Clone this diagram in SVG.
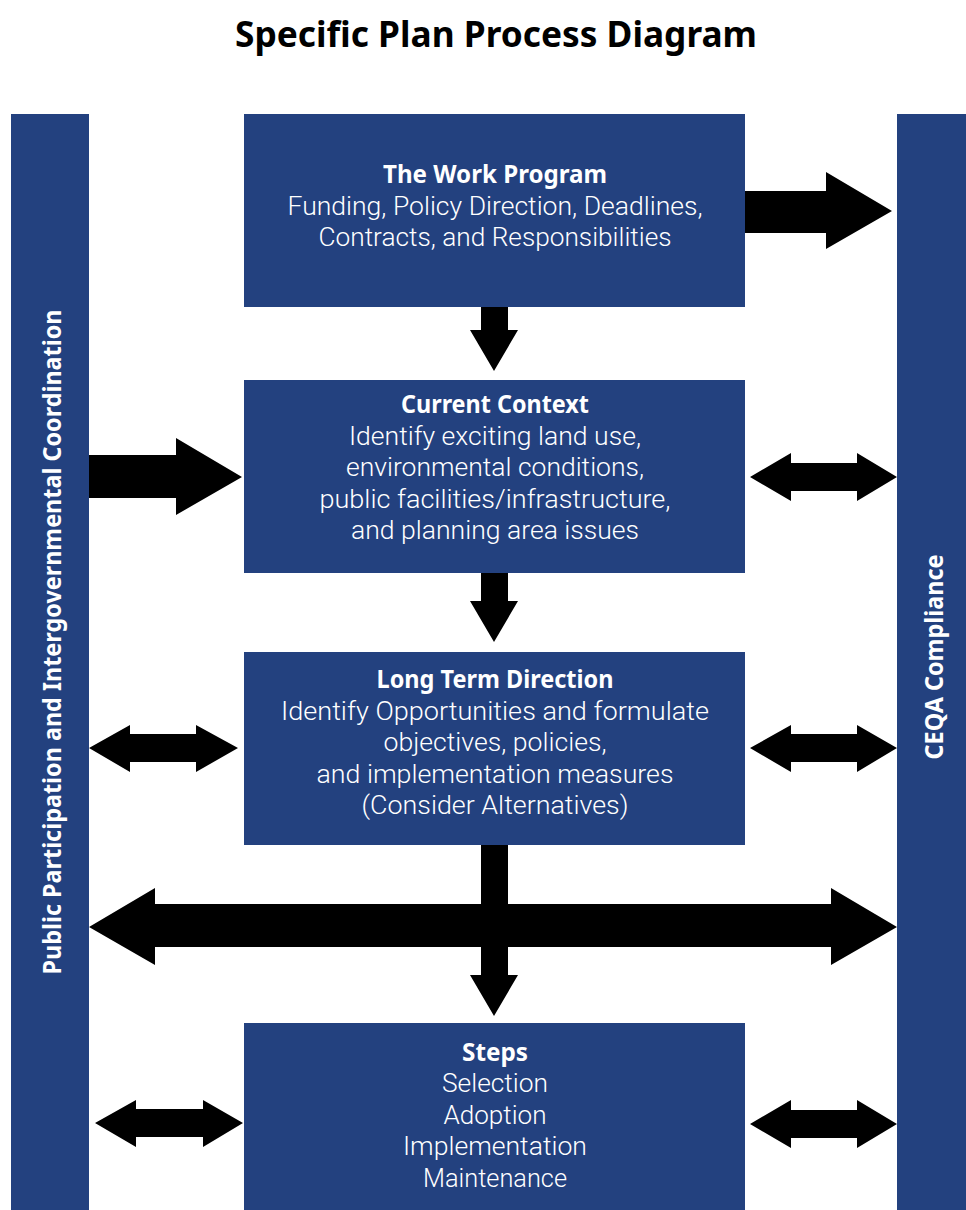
<svg xmlns="http://www.w3.org/2000/svg" width="966" height="1210" viewBox="0 0 966 1210">
<style>
.bg{fill:#ffffff}
.blue{fill:#23417f}
.arrow{fill:#000000}
.title{font-family:"Noto Sans","Liberation Sans",sans-serif;font-weight:700;font-size:36px;fill:#000;text-anchor:middle}
.h{font-family:"Noto Sans","Liberation Sans",sans-serif;font-weight:700;font-size:25px;fill:#fff;text-anchor:middle}
.t{font-family:Roboto,"Noto Sans","Liberation Sans",sans-serif;font-weight:300;font-size:25px;fill:#fff;text-anchor:middle}
.v{font-family:"Noto Sans","Liberation Sans",sans-serif;font-weight:700;font-size:25px;fill:#fff;text-anchor:middle}
</style>
<rect class="bg" x="0" y="0" width="966" height="1210"/>
<text class="title" x="496" y="47" textLength="522" lengthAdjust="spacingAndGlyphs">Specific Plan Process Diagram</text>

<g id="public-participation">
<rect class="blue" x="11" y="114" width="78" height="1096"/>
<text class="v" transform="translate(61,642) rotate(-90)" x="0" y="0" textLength="665" lengthAdjust="spacingAndGlyphs">Public Participation and Intergovernmental Coordination</text>
</g>

<g id="ceqa">
<rect class="blue" x="897" y="114" width="69" height="1096"/>
<text class="v" transform="translate(943,657) rotate(-90)" x="0" y="0" textLength="205" lengthAdjust="spacingAndGlyphs">CEQA Compliance</text>
</g>

<g id="work-program">
<rect class="blue" x="244" y="114" width="501" height="193"/>
<text class="h" x="495" y="183" textLength="224" lengthAdjust="spacingAndGlyphs">The Work Program</text>
<text class="t" x="495" y="215" textLength="415" lengthAdjust="spacingAndGlyphs">Funding, Policy Direction, Deadlines,</text>
<text class="t" x="495" y="246" textLength="353" lengthAdjust="spacingAndGlyphs">Contracts, and Responsibilities</text>
</g>

<g id="current-context">
<rect class="blue" x="244" y="380" width="501" height="193"/>
<text class="h" x="495" y="413" textLength="188" lengthAdjust="spacingAndGlyphs">Current Context</text>
<text class="t" x="495" y="445" textLength="292" lengthAdjust="spacingAndGlyphs">Identify exciting land use,</text>
<text class="t" x="495" y="476" textLength="298" lengthAdjust="spacingAndGlyphs">environmental conditions,</text>
<text class="t" x="495" y="508" textLength="351" lengthAdjust="spacingAndGlyphs">public facilities/infrastructure,</text>
<text class="t" x="495" y="539" textLength="288" lengthAdjust="spacingAndGlyphs">and planning area issues</text>
</g>

<g id="long-term-direction">
<rect class="blue" x="244" y="652" width="501" height="193"/>
<text class="h" x="495" y="688" textLength="237" lengthAdjust="spacingAndGlyphs">Long Term Direction</text>
<text class="t" x="495" y="720" textLength="428" lengthAdjust="spacingAndGlyphs">Identify Opportunities and formulate</text>
<text class="t" x="495" y="751" textLength="223" lengthAdjust="spacingAndGlyphs">objectives, policies,</text>
<text class="t" x="495" y="783" textLength="357" lengthAdjust="spacingAndGlyphs">and implementation measures</text>
<text class="t" x="495" y="814" textLength="267" lengthAdjust="spacingAndGlyphs">(Consider Alternatives)</text>
</g>

<g id="steps">
<rect class="blue" x="244" y="1023" width="501" height="187"/>
<text class="h" x="495" y="1061" textLength="66" lengthAdjust="spacingAndGlyphs">Steps</text>
<text class="t" x="495" y="1092" textLength="106" lengthAdjust="spacingAndGlyphs">Selection</text>
<text class="t" x="495" y="1124" textLength="103" lengthAdjust="spacingAndGlyphs">Adoption</text>
<text class="t" x="495" y="1155" textLength="184" lengthAdjust="spacingAndGlyphs">Implementation</text>
<text class="t" x="495" y="1187" textLength="144" lengthAdjust="spacingAndGlyphs">Maintenance</text>
</g>

<g id="connectors">
<polygon class="arrow" points="745,191 826,191 826,172 892,211 826,249 826,233 745,233"/>
<polygon class="arrow" points="89,455 176,455 176,438 242,477 176,515 176,498 89,498"/>
<polygon class="arrow" points="750,477 791,453 791,463 857,463 857,453 897,477 857,501 857,491 791,491 791,501"/>
<polygon class="arrow" points="89,748 130,725 130,734 196,734 196,725 238,748 196,772 196,762 130,762 130,772"/>
<polygon class="arrow" points="750,748 791,725 791,734 857,734 857,725 897,748 857,772 857,762 791,762 791,772"/>
<polygon class="arrow" points="89,927 155,888 155,904 831,904 831,888 897,927 831,965 831,947 155,947 155,965"/>
<polygon class="arrow" points="481,845 508,845 508,975 518,975 494,1016 470,975 481,975"/>
<polygon class="arrow" points="481,307 508,307 508,330 518,330 494,371 470,330 481,330"/>
<polygon class="arrow" points="481,573 508,573 508,601 518,601 494,642 470,601 481,601"/>
<polygon class="arrow" points="95,1123 136,1100 136,1109 203,1109 203,1100 243,1123 203,1147 203,1137 136,1137 136,1147"/>
<polygon class="arrow" points="750,1124 791,1100 791,1110 857,1110 857,1100 897,1124 857,1148 857,1138 791,1138 791,1148"/>
</g>
</svg>
